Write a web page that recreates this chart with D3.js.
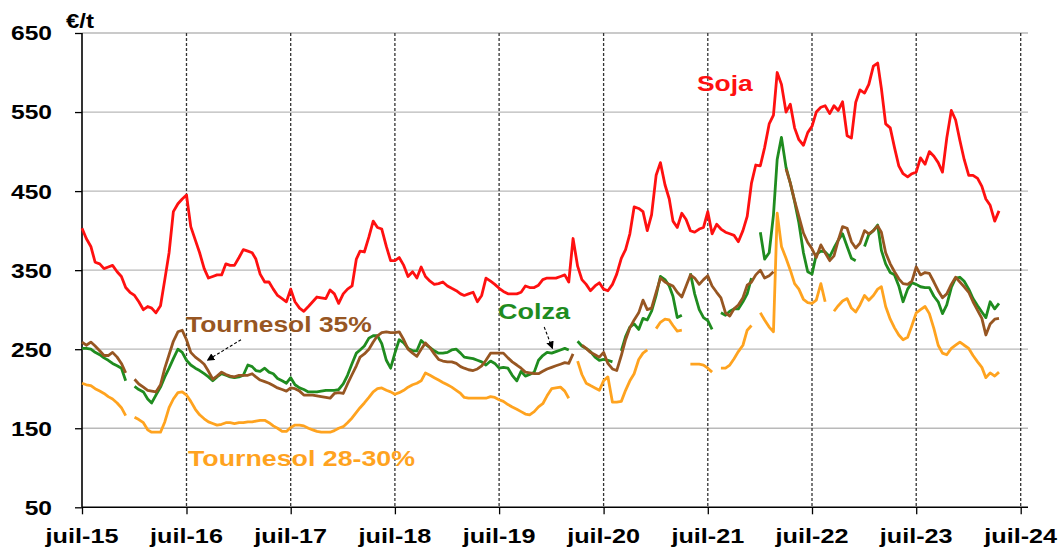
<!DOCTYPE html>
<html>
<head>
<meta charset="utf-8">
<script src="https://cdn.jsdelivr.net/npm/d3@7"></script>
<style>
  body { margin: 0; background: #fff; }
  svg text { font-family: "Liberation Sans", Arial, sans-serif; font-weight: bold; }
</style>
</head>
<body>
<div id="chart"></div>
<script>
// Prices in €/t, two readings per month (1st and 16th), from July 2015. null = no quote.
const soja = [
  403,390,380,360,358,352,354,356,348,342,
  328,322,318,310,300,304,302,296,305,338,
  372,424,434,440,445,405,388,372,352,340,
  342,344,344,358,356,356,366,376,374,372,
  364,345,335,335,326,318,314,310,326,310,
  302,298,304,310,316,315,314,325,320,308,
  320,326,330,364,374,373,392,412,404,402,
  380,362,362,366,356,342,348,340,354,342,
  336,332,333,335,330,327,324,320,318,320,
  322,310,318,340,336,332,327,323,320,320,
  320,322,330,328,328,331,338,340,340,340,
  342,344,335,390,355,338,332,324,330,334,
  326,324,332,345,365,376,396,430,428,424,
  400,420,470,486,458,440,412,404,422,414,
  400,398,402,404,424,396,408,402,398,396,
  394,386,400,418,460,483,482,505,535,546,
  600,585,550,560,530,515,508,524,532,550,
  556,558,548,558,552,563,520,517,562,578,
  574,585,608,612,580,535,530,505,482,472,
  468,472,474,492,484,500,494,486,474,517,
  552,540,514,490,470,470,466,456,440,432,412,425
];

const tournesol35 = [
  259,255,259,254,248,242,242,246,240,232,
  220,null,212,206,202,198,197,196,205,226,
  243,260,272,274,262,246,240,236,231,222,
  212,216,221,218,216,215,217,217,217,219,
  215,211,209,207,204,201,199,197,201,200,
  197,192,192,192,191,190,189,188,194,195,
  194,206,218,229,240,244,250,259,267,271,
  272,271,271,272,262,250,245,241,250,258,
  252,244,237,235,234,234,232,228,226,224,
  223,225,229,236,245,245,245,245,239,234,
  230,226,221,220,219,219,222,225,227,229,
  231,233,232,244,null,255,251,246,243,240,
  246,232,225,223,242,262,277,287,296,312,
  300,302,322,340,335,332,330,322,316,330,
  344,340,332,338,343,330,322,315,296,292,
  301,306,315,331,335,344,350,340,343,348,
  null,null,478,460,438,418,397,385,377,366,
  382,372,362,368,388,405,403,386,378,384,
  400,396,400,406,398,372,358,348,339,333,
  332,336,354,344,347,346,335,324,315,320,
  332,341,335,329,322,310,299,289,268,282,288,289
];

const colza = [
  251,251,250,246,243,239,236,232,229,226,
  210,null,203,199,196,187,182,192,202,215,
  226,238,250,246,236,230,226,223,219,215,
  210,215,219,217,215,214,215,217,230,228,
  223,222,226,221,219,213,210,207,214,205,
  201,199,196,196,196,197,198,198,198,199,
  206,217,232,245,249,254,264,267,267,257,
  236,226,245,262,258,251,248,248,261,256,
  252,248,245,245,246,249,250,245,240,239,
  238,236,234,230,235,232,226,227,226,217,
  210,222,216,218,221,236,242,246,245,247,
  249,251,249,null,260,254,251,247,240,236,
  237,236,234,null,248,266,278,282,275,289,
  287,298,318,342,338,330,317,290,293,null,
  346,320,300,290,286,275,null,296,293,298,
  301,301,310,320,340,null,398,364,372,420,
  490,518,480,460,437,410,372,348,345,370,
  374,373,367,378,388,396,380,365,362,null,
  380,395,400,407,375,358,347,344,330,310,
  326,334,332,329,328,328,317,310,295,306,
  328,340,341,336,326,314,305,297,290,310,301,308
];

const tournesol28 = [
  207,205,204,200,197,194,190,187,182,176,
  166,null,164,161,157,148,145,145,145,158,
  176,187,195,196,192,184,174,167,162,158,
  156,154,155,157,157,156,157,157,158,158,
  159,160,160,157,153,150,146,146,151,154,
  154,153,150,148,146,145,145,145,147,150,
  152,157,163,170,176,182,189,196,200,201,
  198,196,193,195,198,202,205,207,210,220,
  217,214,211,208,205,202,198,194,189,188,
  188,188,188,188,190,189,186,184,180,177,
  174,171,168,167,171,177,181,191,200,201,
  202,197,188,null,235,218,207,204,201,198,
  210,215,183,183,184,198,210,219,237,245,
  249,null,276,284,288,287,280,273,274,null,
  231,231,231,230,226,221,null,226,226,230,
  238,247,255,274,280,null,296,287,278,272,
  422,380,365,350,333,326,313,309,308,312,
  333,310,null,298,305,311,314,302,297,306,
  318,312,318,326,329,304,288,277,268,262,
  265,280,296,300,304,295,276,255,245,243,
  251,255,259,255,251,242,234,227,214,220,216,221
];

const yTicks = [50, 150, 250, 350, 450, 550, 650];
const yearTicks = [2015, 2016, 2017, 2018, 2019, 2020, 2021, 2022, 2023, 2024];
const yearLabels = ['juil-15','juil-16','juil-17','juil-18','juil-19','juil-20','juil-21','juil-22','juil-23','juil-24'];

const dates = soja.map((d, i) => new Date(2015, 6 + Math.floor(i / 2), i % 2 ? 16 : 1));

const width = 1061, height = 556;
const plotLeft = 82, plotRight = 1028, plotTop = 33, plotBottom = 507.3;
const stretch = 1.2; // the reference type is drawn wider than it is tall

const svg = d3.select('#chart').append('svg')
  .attr('width', width)
  .attr('height', height);

const x = d3.scaleTime()
  .domain([new Date(2015, 6, 1), new Date(2024, 6, 1)])
  .range([plotLeft, 1020.7]);

const y = d3.scaleLinear()
  .domain([50, 650])
  .range([plotBottom, plotTop]);

// horizontal grid
svg.append('g')
  .selectAll('line')
  .data(yTicks.filter(v => v > 50))
  .join('line')
  .attr('x1', plotLeft).attr('x2', plotRight)
  .attr('y1', d => y(d)).attr('y2', d => y(d))
  .attr('stroke', '#b9b9b9')
  .attr('stroke-width', 1.3);

// dotted year lines
svg.append('g')
  .selectAll('line')
  .data(yearTicks.slice(1))
  .join('line')
  .attr('x1', d => x(new Date(d, 6, 1))).attr('x2', d => x(new Date(d, 6, 1)))
  .attr('y1', plotTop).attr('y2', plotBottom)
  .attr('stroke', '#333')
  .attr('stroke-width', 1.3)
  .attr('stroke-dasharray', '3,2');

// axes
const xAxis = d3.axisBottom(x)
  .tickValues(yearTicks.map(yr => new Date(yr, 6, 1)))
  .tickSize(7)
  .tickFormat('');
const gx = svg.append('g').attr('transform', `translate(0,${plotBottom})`).call(xAxis);
gx.select('.domain').remove();
gx.selectAll('.tick line').attr('stroke', '#000').attr('stroke-width', 1.3);

const yAxis = d3.axisLeft(y).tickValues(yTicks).tickSize(7).tickFormat('');
const gy = svg.append('g').attr('transform', `translate(${plotLeft},0)`).call(yAxis);
gy.select('.domain').remove();
gy.selectAll('.tick line').attr('stroke', '#000').attr('stroke-width', 1.3);

svg.append('line')
  .attr('x1', plotLeft).attr('x2', plotRight)
  .attr('y1', plotBottom).attr('y2', plotBottom)
  .attr('stroke', '#000').attr('stroke-width', 1.6);
svg.append('line')
  .attr('x1', plotLeft).attr('x2', plotLeft)
  .attr('y1', plotTop).attr('y2', plotBottom)
  .attr('stroke', '#000').attr('stroke-width', 1.6);

function label(px, py, txt, size, color, anchor) {
  svg.append('text')
    .attr('transform', `translate(${px},${py}) scale(${stretch},1)`)
    .attr('text-anchor', anchor || 'start')
    .attr('font-size', size)
    .attr('fill', color)
    .text(txt);
}

// tick labels
yTicks.forEach(v => label(52, y(v) + 7.4, v, 20.5, '#000', 'end'));
yearTicks.forEach((yr, i) => label(x(new Date(yr, 6, 1)), 543, yearLabels[i], 21, '#000', 'middle'));
label(66, 28, '€/t', 20, '#000');

// series
const series = [
  { values: tournesol28, color: '#ffa31f' },
  { values: colza, color: '#1f8c1f' },
  { values: tournesol35, color: '#975622' },
  { values: soja, color: '#ff1010' }
];

const line = d3.line()
  .defined(d => d.v !== null)
  .x(d => x(d.date))
  .y(d => y(d.v));

series.forEach(s => {
  svg.append('path')
    .datum(s.values.map((v, i) => ({ date: dates[i], v: v })))
    .attr('fill', 'none')
    .attr('stroke', s.color)
    .attr('stroke-width', 2.8)
    .attr('stroke-linejoin', 'round')
    .attr('d', line);
});

// series labels
label(697, 91, 'Soja', 22, '#ff1010');
label(186, 332, 'Tournesol 35%', 22, '#975622');
label(498, 319, 'Colza', 22.5, '#1f8c1f');
label(188, 466, 'Tournesol 28-30%', 22.3, '#ffa31f');

// arrows
svg.append('defs').append('marker')
  .attr('id', 'head')
  .attr('viewBox', '0 0 10 10')
  .attr('refX', 9).attr('refY', 5)
  .attr('markerWidth', 7).attr('markerHeight', 7)
  .attr('orient', 'auto')
  .append('path')
  .attr('d', 'M0,0L10,5L0,10z')
  .attr('fill', '#000');

const arrows = [
  { from: [new Date(2017, 0, 8), 262], to: [new Date(2016, 8, 12), 236] },
  { from: [new Date(2019, 11, 6), 278], to: [new Date(2020, 0, 4), 251] }
];
arrows.forEach(a => {
  svg.append('line')
    .attr('x1', x(a.from[0])).attr('y1', y(a.from[1]))
    .attr('x2', x(a.to[0])).attr('y2', y(a.to[1]))
    .attr('stroke', '#000')
    .attr('stroke-width', 1.1)
    .attr('stroke-dasharray', '3,2')
    .attr('marker-end', 'url(#head)');
});
</script>
</body>
</html>
